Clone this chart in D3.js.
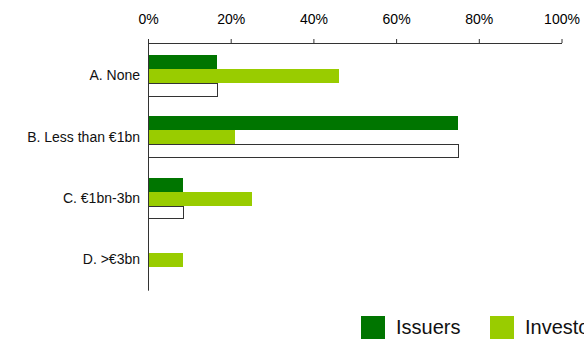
<!DOCTYPE html>
<html>
<head>
<meta charset="utf-8">
<script src="https://cdn.jsdelivr.net/npm/d3@7"></script>
<style>
  html, body { margin: 0; padding: 0; background: #fff; }
  svg { display: block; font-family: "Liberation Sans", Arial, sans-serif; }
</style>
</head>
<body>
<svg id="chart" width="584" height="339"></svg>
<script>
const categories = ["A. None", "B. Less than €1bn", "C. €1bn-3bn", "D. >€3bn"];
const seriesNames = ["Issuers", "Investors", "Series 3"];
const issuers = [16.7, 75, 8.4, 0];
const investors = [46.2, 21, 25.2, 8.4];
const series3 = [16.7, 75, 8.4, 0];
const xTicks = [0, 20, 40, 60, 80, 100];
const legendNames = ["Issuers", "Investors"];

const colors = { "Issuers": "#007500", "Investors": "#99cc00", "Series 3": "#ffffff" };
const values = { "Issuers": issuers, "Investors": investors, "Series 3": series3 };

const svg = d3.select("#chart");

const x = d3.scaleLinear().domain([0, 100]).range([148, 561.5]);
const y = d3.scaleBand().domain(categories).range([45.1, 290.7]).paddingInner(0.324).paddingOuter(0.162);
const ys = d3.scaleBand().domain(seriesNames).range([0, y.bandwidth()]);

// bars
const groups = svg.append("g").selectAll("g").data(categories).join("g")
  .attr("transform", d => `translate(0,${y(d)})`);

groups.selectAll("rect")
  .data((c, i) => seriesNames.map(s => ({ s, v: values[s][i] })).filter(d => d.v > 0))
  .join("rect")
  .attr("x", d => x(0) + (d.s === "Series 3" ? 0.5 : 0))
  .attr("y", d => ys(d.s) + (d.s === "Series 3" ? 0.5 : 0))
  .attr("width", d => x(d.v) - x(0))
  .attr("height", d => ys.bandwidth() - (d.s === "Series 3" ? 1 : 0))
  .attr("fill", d => colors[d.s])
  .attr("stroke", d => d.s === "Series 3" ? "#333" : "none")
  .attr("stroke-width", 1)
  .attr("shape-rendering", "crispEdges");

// top axis
const xAxis = svg.append("g").attr("transform", "translate(0,43)")
  .call(d3.axisTop(x).tickValues(xTicks).tickFormat(d => d + "%").tickSize(4).tickSizeOuter(0).tickPadding(15.5));
xAxis.select(".domain").attr("stroke", "#333");
xAxis.selectAll(".tick line").attr("stroke", "#333");
xAxis.selectAll("text").attr("font-size", 14).attr("fill", "#000")
  .attr("font-family", "Liberation Sans, Arial, sans-serif");

// left axis
const yAxis = svg.append("g").attr("transform", "translate(148,0)")
  .call(d3.axisLeft(y).tickSize(0).tickPadding(8));
yAxis.select(".domain").remove();
yAxis.selectAll("text").attr("font-size", 14).attr("fill", "#111")
  .attr("font-family", "Liberation Sans, Arial, sans-serif");
svg.append("line")
  .attr("x1", x(0) + 0.5).attr("x2", x(0) + 0.5)
  .attr("y1", 43).attr("y2", y.range()[1])
  .attr("stroke", "#333");

// legend
const lx = d3.scalePoint().domain(legendNames).range([361, 490]);
const leg = svg.append("g").selectAll("g").data(legendNames).join("g")
  .attr("transform", d => `translate(${lx(d)},316)`);
leg.append("rect").attr("width", 24).attr("height", 23).attr("fill", d => colors[d]);
leg.append("text").attr("x", 35).attr("y", 18).attr("font-size", 20).attr("fill", "#111").text(d => d);
</script>
</body>
</html>
